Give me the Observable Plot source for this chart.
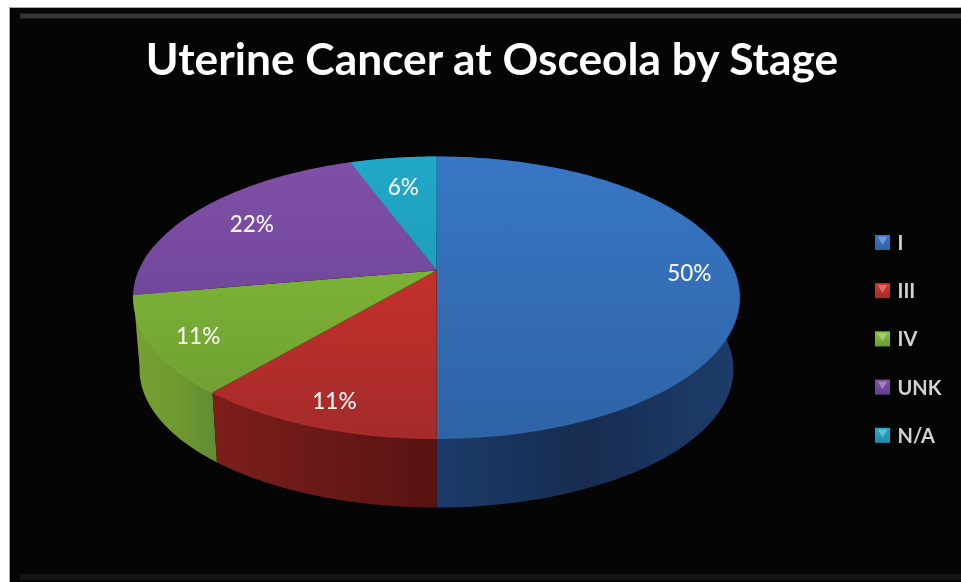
<!DOCTYPE html>
<html>
<head>
<meta charset="utf-8">
<script src="https://cdn.jsdelivr.net/npm/d3@7"></script>
<script src="https://cdn.jsdelivr.net/npm/@observablehq/plot@0.6"></script>
<style>
html,body{margin:0;padding:0;background:#fff;overflow:hidden}
svg{display:block;filter:blur(0.45px)}
</style>
</head>
<body>
<div id="chart"></div>
<script>
const title = "Uterine Cancer at Osceola by Stage";
const stages = ["I", "III", "IV", "UNK", "N/A"];
const counts = [9, 2, 2, 4, 1];
const percentLabels = ["50%", "11%", "11%", "22%", "6%"];

const faceColors = [["#3877c4", "#2e63a6"], ["#db342d", "#a32b2a"], ["#88c33c", "#6c9a30"], ["#7f50a6", "#653e90"], ["#20a9c8", "#1c8fa9"]];
const sideColors = [["#1b3a69", "#172c50", "#1e3d6c"], ["#7c1e1b", "#691917", "#571311"], ["#76a030", "#6f9a30", "#5f8b36"], ["#4a2f68", "#4a2f68", "#4a2f68"], ["#14677c", "#14677c", "#14677c"]];
const labelReach = [0.85, 0.85, 0.85, 0.77, 0.73];

const W = 961, H = 582, cx = 436, tilt = 0.1915, rx = 297.4, ry = 135.8;
const topApexY = 270, wallApexY = 342.4, wallScale = 0.98;

// Perspective view of the pie's disc: r is the share of the radius, a the angle clockwise from the top.
const project = (a, r, apexY, s) => {
  const u = r * Math.sin(a), v = -r * Math.cos(a), w = 1 - tilt * v;
  return {x: cx + s * rx * u / w, y: apexY + s * ry * v / w};
};

const arcs = d3.pie().sort(null).startAngle(0).endAngle(2 * Math.PI)(counts);
const angleSteps = (a0, a1) => d3.range(0, 121).map((i) => a0 + (a1 - a0) * i / 120);

const slices = stages.map((stage, i) => {
  const {startAngle: a0, endAngle: a1} = arcs[i];
  const rim = angleSteps(a0, a1);
  return {
    stage, i,
    face: [{x: cx, y: topApexY}, ...rim.map((a) => project(a, 1, topApexY, 1))],
    wall: [...rim.map((a) => project(a, 1, topApexY, 1)), ...rim.slice().reverse().map((a) => project(a, 1, wallApexY, wallScale))],
    front: rim.filter((a) => Math.cos(a) < 0.19).map((a) => project(a, 1, topApexY, 1)),
    label: {...project((a0 + a1) / 2, labelReach[i], topApexY, 1), text: percentLabels[i]}
  };
});

const legendRows = stages.map((stage, i) => ({stage, i, x: 882, y: 242 + 48.2 * i}));

const defs = () => {
  const d = d3.create("svg:defs");
  const stopsOf = (g, cols) => cols.forEach((c, j) => g.append("stop").attr("offset", j / (cols.length - 1)).attr("stop-color", c));
  faceColors.forEach((cols, i) => {
    stopsOf(d.append("linearGradient").attr("id", `face${i}`).attr("gradientUnits", "userSpaceOnUse")
      .attr("x1", 0).attr("x2", 0).attr("y1", 156).attr("y2", 438), cols);
    stopsOf(d.append("linearGradient").attr("id", `swatch${i}`).attr("x1", 0).attr("x2", 0).attr("y1", 0).attr("y2", 1), [cols[0], cols[1]]);
  });
  const xs = [[436, 739], [216, 436], [133, 220], [133, 350], [350, 436]];
  sideColors.forEach((cols, i) => {
    stopsOf(d.append("linearGradient").attr("id", `wall${i}`).attr("gradientUnits", "userSpaceOnUse")
      .attr("y1", 0).attr("y2", 0).attr("x1", xs[i][0]).attr("x2", xs[i][1]), cols);
  });
  return d.node();
};

const wallOrder = [3, 4, 0, 2, 1];

const plot = Plot.plot({
  width: W, height: H,
  marginLeft: 9, marginTop: 7, marginRight: 0, marginBottom: 0,
  style: {background: "#fff"},
  x: {domain: [9, W], axis: null},
  y: {domain: [H, 7], axis: null},
  marks: [
    defs,
    Plot.frame({fill: "#050505", stroke: "#a8a8a8", anchor: null}),
    Plot.ruleY([15.5], {x1: 20, x2: W, stroke: "#363333", strokeWidth: 5}),
    Plot.ruleY([576.5], {x1: 20, x2: W, stroke: "#141414", strokeWidth: 6}),
    ...wallOrder.map((i) => Plot.line(slices[i].wall, {x: "x", y: "y", fill: `url(#wall${i})`, stroke: "none", curve: "linear-closed"})),
    ...slices.map((s) => Plot.line(s.face, {x: "x", y: "y", fill: `url(#face${s.i})`, stroke: "none", curve: "linear-closed"})),
    ...slices.filter((s) => s.front.length).map((s) => Plot.line(s.front, {x: "x", y: "y", stroke: faceColors[s.i][0], strokeOpacity: 0.55, strokeWidth: 1.3})),
    Plot.text(slices.map((s) => s.label), {x: "x", y: (d) => d.y + 3, text: "text", fill: "#f4f4f4", fontSize: 22.5, fontFamily: "Lato", fontWeight: 500, textAnchor: "middle"}),
    Plot.text([title], {x: () => 491.5, y: () => 60, text: (d) => d, fill: "#fff", fontSize: 44.3, fontFamily: "Lato", fontWeight: 700, textAnchor: "middle"}),
    ...legendRows.map((r) => Plot.dot([r], {x: "x", y: "y", symbol: "square", r: 8.5, fill: `url(#swatch${r.i})`, stroke: "none"})),
    ...legendRows.map((r) => Plot.dot([r], {x: "x", y: (d) => d.y - 3, symbol: "triangle", r: 3.5, rotate: 180, fill: "#fff", fillOpacity: 0.3, stroke: "none"})),
    Plot.text(legendRows, {x: (d) => d.x + 15, y: (d) => d.y + 1, text: "stage", fill: "#d2d2d2", fontSize: 20, fontFamily: "Lato", fontWeight: 700, textAnchor: "start"})
  ]
});
document.getElementById("chart").appendChild(plot);
</script>
</body>
</html>
